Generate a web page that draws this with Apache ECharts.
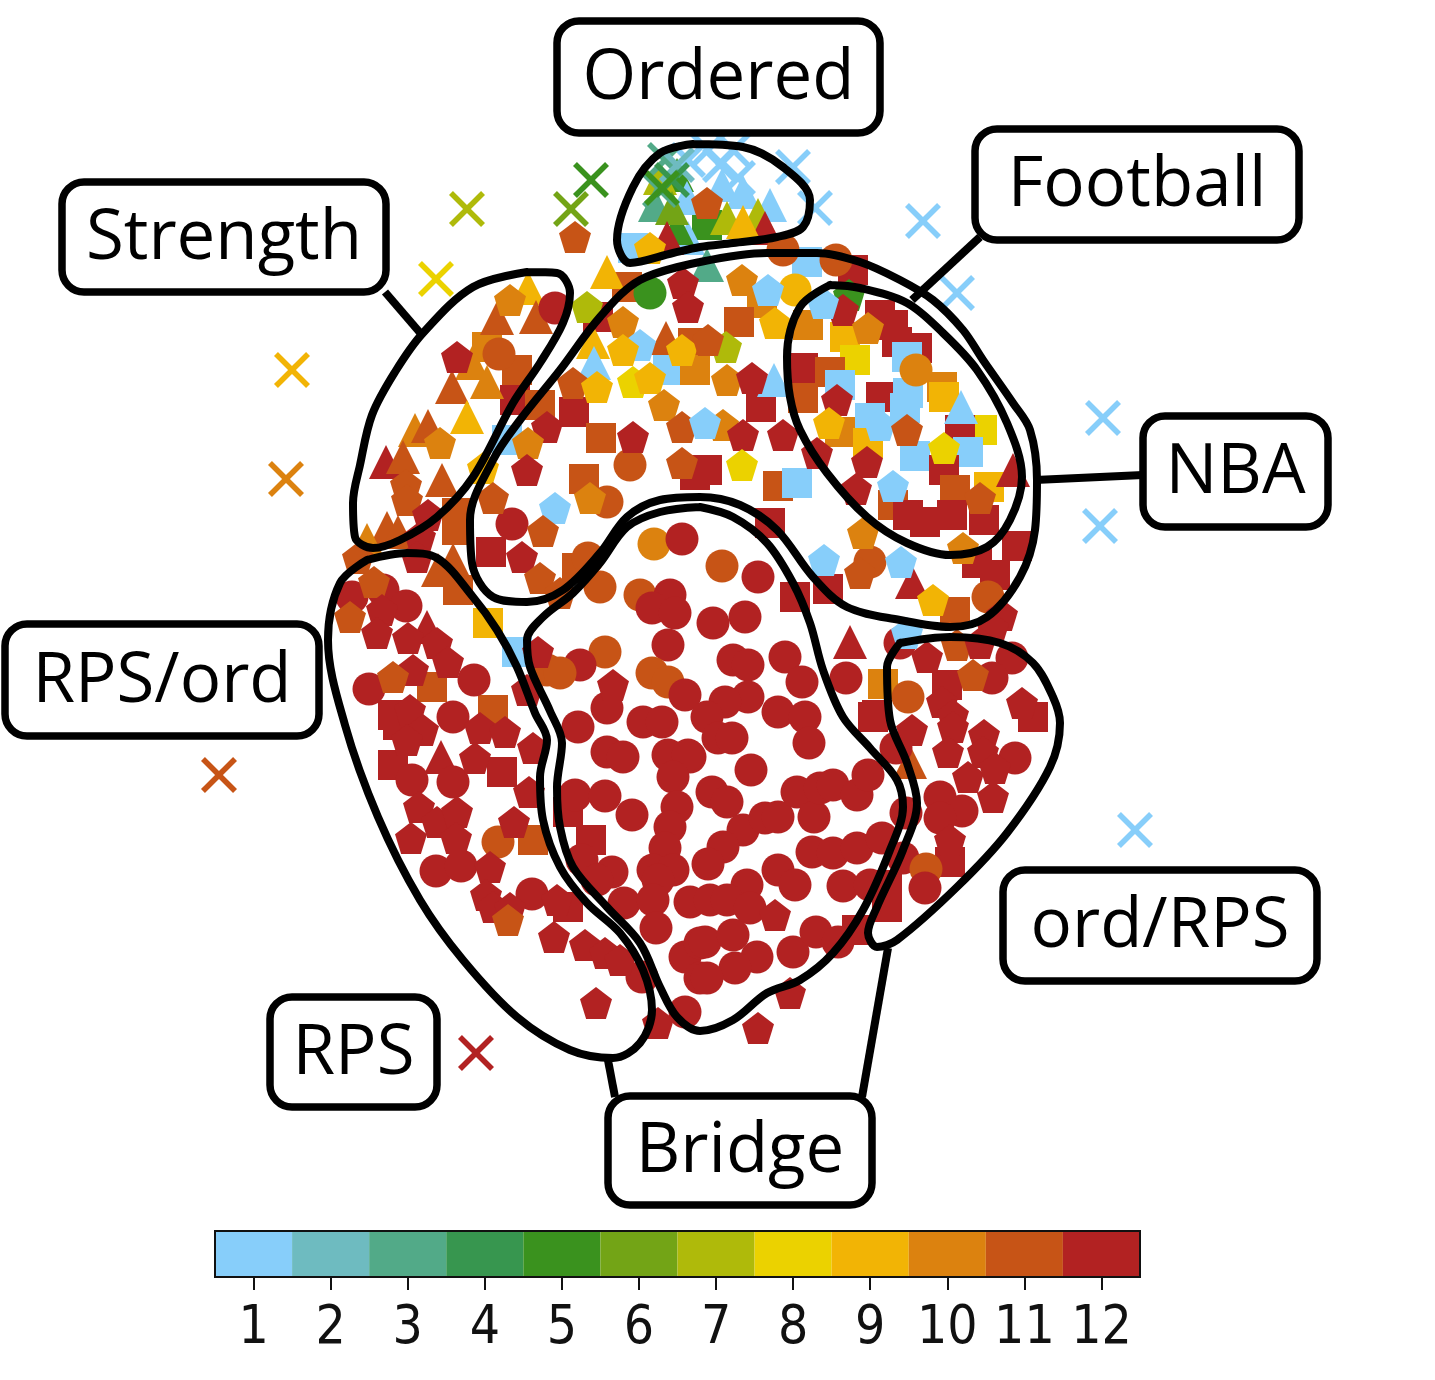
<!DOCTYPE html>
<html><head><meta charset="utf-8">
<style>html,body{margin:0;padding:0;background:#fff}#c{width:1435px;height:1380px}</style>
<script src="https://cdn.jsdelivr.net/npm/echarts@6/dist/echarts.min.js"></script>
</head><body><div id="c"></div>
<script>
const colors=['#87CEFA','#6EBBC0','#52AA88','#37964F','#3A921E','#73A416','#AFBA0A','#EBD200','#F2B405','#DC820F','#C75416','#B22222'];
const tickLabels=['1','2','3','4','5','6','7','8','9','10','11','12'];

const crosses=[[591,180,5],[571,209,6],[467,209,7],[436,279,8],[292,370,9],[286,479,10],[219,775,11],[476,1053,12],[1135,830,1],[1100,526,1],[1103,418,1],[957,293,1],[923,221,1],[815,208,1],[793,167,1],[720,165,1],[708,150,1],[733,150,1],[738,178,1],[688,160,1],[665,160,3],[677,165,2],[660,190,3],[672,180,4],[662,188,5]];

const squares=[[853,270,12],[807,262,1],[762,303,10],[739,322,11],[808,325,10],[845,337,9],[855,360,8],[880,315,12],[893,325,12],[897,342,12],[917,348,12],[907,357,1],[803,368,12],[830,372,11],[840,385,1],[881,397,12],[908,393,1],[942,387,10],[944,397,9],[803,398,11],[761,407,12],[870,418,1],[905,408,1],[982,430,8],[960,430,12],[840,432,10],[868,443,9],[915,456,1],[968,452,1],[944,470,12],[707,470,12],[778,486,11],[797,483,1],[955,490,11],[989,487,9],[893,505,11],[908,515,12],[925,522,12],[952,515,12],[984,520,12],[770,523,12],[1017,546,12],[977,563,12],[995,575,12],[955,612,11],[795,597,12],[828,589,12],
[627,287,11],[598,317,12],[693,343,11],[668,370,1],[695,370,10],[574,412,12],[515,400,12],[540,405,11],[601,438,11],[507,440,1],[584,479,11],[695,475,12],[457,513,11],[457,530,11],[491,552,12],[577,568,11],[458,590,11],[488,623,9],[517,652,1],[432,687,11],[493,710,11],[393,715,12],[398,725,12],[393,765,12],[502,772,12],[533,840,11],[568,812,12],[591,840,12],[568,907,12],[883,684,10],[877,715,12],[947,685,12],[1033,717,12],[873,717,12],[950,862,12],[887,885,12],[887,907,12],[857,930,12],[707,225,5],[633,248,1],[487,347,10],[517,370,11]];

const triangles=[[528,288,9],[497,318,11],[536,317,11],[607,272,9],[593,342,9],[594,363,1],[666,338,11],[472,363,10],[452,387,11],[487,382,10],[467,417,9],[415,430,10],[428,426,11],[386,462,12],[403,457,11],[442,480,11],[387,528,11],[398,532,11],[367,540,10],[453,560,11],[438,570,11],[427,627,12],[441,757,12],[774,380,1],[961,407,1],[1013,470,12],[912,582,12],[850,642,12],[910,762,11],
[677,175,5],[660,178,7],[722,185,1],[743,192,1],[770,205,1],[687,198,1],[688,238,1],[677,228,5],[655,205,3],[672,208,6],[667,238,12],[727,218,7],[758,215,7],[765,228,12],[743,222,9],[707,265,3]];

const circles=[[650,293,5],[555,308,12],[795,290,9],[783,250,11],[836,260,11],[916,370,10],[499,354,11],[630,465,11],[607,502,11],[512,524,12],[588,558,11],[600,587,11],[654,544,10],[682,539,12],[722,566,11],[758,577,12],[870,562,11],[988,597,11],[640,595,11],[670,595,12],[652,608,12],[675,613,12],[713,623,12],[745,617,12],[668,645,12],[605,652,11],[580,665,12],[547,670,11],[560,673,11],[652,673,11],[668,682,11],[685,695,12],[733,660,12],[748,665,12],[785,657,12],[802,682,12],[846,678,12],[748,697,12],[725,702,12],[707,717,12],[778,712,12],[805,717,12],[607,708,12],[578,727,12],[643,722,12],[662,722,12],[718,738,12],[732,738,12],[809,743,12],[690,757,12],[751,770,12],[607,752,12],[623,757,12],[668,755,12],[688,755,12],[673,777,12],[575,795,12],[605,796,12],[632,815,12],[677,807,12],[670,827,12],[665,848,12],[582,860,12],[612,872,12],[597,880,12],[653,870,12],[673,870,12],[658,880,12],[624,903,12],[653,900,12],[690,902,12],[656,928,12],[685,957,12],[700,943,12],[700,978,12],[685,1012,12],
[712,792,12],[727,802,12],[743,830,12],[765,818,12],[778,817,12],[797,792,12],[814,817,12],[820,788,12],[833,785,12],[857,795,12],[868,775,12],[723,847,12],[708,864,12],[812,852,12],[833,853,12],[857,848,12],[882,838,12],[778,870,12],[795,885,12],[843,886,12],[870,885,12],[747,885,12],[710,900,12],[727,900,12],[750,908,12],[705,942,12],[733,935,12],[757,957,12],[735,968,12],[707,978,12],[793,952,12],[816,932,12],[838,942,12],
[352,597,12],[383,590,12],[406,606,12],[369,689,12],[474,680,12],[453,717,12],[412,780,12],[453,782,12],[498,842,11],[436,871,12],[461,866,12],[532,894,12],[642,977,12],
[900,643,12],[908,697,11],[1012,658,12],[992,678,12],[896,748,12],[1015,758,12],[940,797,12],[962,811,12],[940,818,12],[906,813,12],[903,858,12],[926,869,11],[925,888,12]];

const pentagons=[[575,237,11],[707,203,11],[650,248,9],[683,283,12],[688,307,12],[510,300,10],[587,307,7],[623,322,10],[640,345,1],[623,350,9],[682,350,9],[457,357,12],[573,383,11],[597,387,9],[633,382,8],[650,378,9],[664,405,10],[547,427,12],[633,437,12],[682,427,11],[440,443,10],[528,443,10],[483,468,9],[527,470,12],[682,463,11],[406,485,11],[407,500,11],[493,498,11],[555,508,1],[590,498,10],[428,515,12],[543,531,11],[420,537,12],[417,557,12],[522,557,12],[358,558,11],[540,578,11],[560,593,11],[374,582,11],[350,617,11],[382,610,12],[377,633,12],[408,638,12],[437,643,12],[448,662,12],[538,652,12],[613,685,12],[527,690,12],[413,670,12],[393,677,11],[410,710,12],[423,730,12],[407,740,12],[480,728,12],[505,732,12],[533,748,12],[475,758,12],[529,792,12],[419,807,12],[437,822,12],[457,812,12],[456,838,12],[411,838,12],[514,822,12],[490,867,12],[486,895,12],[493,907,12],[510,908,12],[508,920,11],[557,900,12],[554,937,12],[585,945,12],[605,953,12],[620,960,12],[596,1003,12],[658,1023,12],[775,915,12],[790,993,12],[758,1028,12],
[742,280,10],[768,290,1],[775,323,9],[726,347,7],[708,340,11],[849,295,5],[843,310,12],[823,303,1],[868,328,10],[837,400,12],[727,380,10],[752,378,12],[829,423,9],[880,425,1],[907,430,11],[723,425,10],[705,423,1],[743,435,12],[783,435,12],[742,465,8],[817,453,12],[867,462,12],[856,489,12],[893,486,1],[980,498,11],[944,448,8],[963,548,10],[863,533,10],[824,560,1],[860,573,11],[901,562,1],[933,600,9],[1002,615,12],[993,628,12],[907,633,1],[927,657,12],[957,645,11],[980,643,12],[973,675,11],[942,702,12],[1022,703,12],[953,715,12],[912,730,12],[953,727,12],[984,735,12],[948,752,12],[983,752,12],[968,777,12],[993,797,12],[995,768,12],[950,840,12]];

const outlineOrdered=[[693,144],[743,147],[783,167],[810,200],[803,227],[777,237],[733,243],[700,247],[673,253],[630,263],[617,240],[633,187],[660,153],[693,144]];
const outlineStrength=[[527,272],[557,273],[570,293],[563,323],[540,363],[513,403],[473,477],[437,517],[400,540],[373,548],[355,537],[353,503],[360,465],[372,415],[395,372],[423,333],[473,287],[527,272]];
const outlineFootball=[[700,262],[767,253],[817,253],[860,262],[900,280],[933,300],[963,330],[983,360],[1013,403],[1030,430],[1037,480],[1035,530],[1020,577],[987,617],[950,627],[900,620],[847,607],[813,577],[777,530],[740,505],[700,497],[660,500],[627,517],[600,553],[563,590],[527,602],[493,597],[472,563],[470,520],[493,460],[520,420],[560,370],[600,317],[640,280],[700,262]];
const outlineNba=[[830,285],[860,288],[907,303],[943,333],[977,370],[1007,423],[1022,477],[1010,520],[987,547],[950,555],[907,543],[867,517],[827,473],[800,430],[790,397],[787,357],[800,307],[830,285]];
const outlineBridge=[[700,507],[733,517],[767,543],[793,583],[810,623],[823,670],[843,717],[870,748],[897,780],[903,807],[890,850],[863,910],[833,953],[800,980],[767,993],[733,1020],[700,1031],[677,1017],[660,987],[640,943],[607,907],[573,867],[560,827],[557,787],[562,743],[550,711],[530,667],[527,640],[543,617],[573,593],[600,563],[627,527],[660,512],[700,507]];
const outlineRpsOrd=[[367,560],[407,553],[437,558],[473,597],[497,630],[517,667],[535,713],[547,740],[540,777],[543,820],[560,867],[587,903],[620,933],[643,970],[652,1010],[640,1043],[613,1058],[570,1050],[517,1017],[463,960],[420,900],[378,817],[345,725],[328,640],[340,583],[367,560]];
const outlineOrdRps=[[900,643],[950,637],[1000,643],[1033,663],[1053,697],[1060,723],[1050,767],[1007,833],[957,887],[897,940],[877,947],[868,933],[877,907],[903,850],[917,803],[907,763],[890,720],[887,667],[900,643]];
const connectors=[[[385,292],[422,335]],[[980,237],[912,300]],[[1143,475],[1035,480]],[[607,1055],[615,1097]],[[888,948],[862,1097]]];

const labelNames=['Ordered','Football','Strength','NBA','RPS/ord','ord/RPS','RPS','Bridge'];
const labelBoxes=[[557,21,323,112],[975,129,324,111],[62,182,324,110],[1143,416,185,111],[5,624,314,112],[1003,870,314,111],[270,997,167,110],[608,1096,264,109]];

const pent='path://M0,-10 L9.51,-3.09 L5.88,8.09 L-5.88,8.09 L-9.51,-3.09 Z';
const xmark='path://M-10,-7.8 L-7.8,-10 L0,-2.2 L7.8,-10 L10,-7.8 L2.2,0 L10,7.8 L7.8,10 L0,2.2 L-7.8,10 L-10,7.8 L-2.2,0 Z';
const pts=(name,data,symbol,size,z)=>({type:'scatter',name,data,symbol,symbolSize:size,z,silent:true,animation:false,
  itemStyle:{opacity:1,color:p=>colors[p.data[2]-1]}});
const outline=(d)=>({type:'line',data:d,smooth:0.34,symbol:'none',z:10,silent:true,animation:false,lineStyle:{color:'#000',width:8,cap:'round',join:'round'}});
const conn=(d)=>({type:'line',data:d,symbol:'none',z:9,silent:true,animation:false,lineStyle:{color:'#000',width:8}});

const chart=echarts.init(document.getElementById('c'),null,{renderer:'canvas'});
chart.setOption({
  animation:false,backgroundColor:'#fff',
  grid:[{left:0,top:0,width:1435,height:1380},
        {left:215,top:1231,width:925,height:46,show:true,borderColor:'#111',borderWidth:2,z:3}],
  xAxis:[{gridIndex:0,type:'value',min:0,max:1435,show:false},
    {gridIndex:1,type:'category',data:tickLabels,boundaryGap:true,
     axisLine:{show:false},axisTick:{show:true,alignWithLabel:true,length:13,lineStyle:{color:'#111',width:2}},
     axisLabel:{margin:26,fontSize:53,color:'#111',fontFamily:'"DejaVu Sans Condensed","DejaVu Sans"',interval:0,hideOverlap:false}}],
  yAxis:[{gridIndex:0,type:'value',min:0,max:1380,inverse:true,show:false},
    {gridIndex:1,type:'value',min:0,max:1,show:false}],
  series:[
    pts('square',squares,'rect',30,3),
    pts('triangle',triangles,'triangle',[34,34],4),
    pts('cross',crosses,xmark,36,5),
    pts('circle',circles,'circle',33,6),
    pts('pentagon',pentagons,pent,32,7),
    ...connectors.map(conn),
    outline(outlineOrdered),outline(outlineStrength),outline(outlineFootball),outline(outlineNba),outline(outlineBridge),outline(outlineRpsOrd),outline(outlineOrdRps),
    {type:'bar',xAxisIndex:1,yAxisIndex:1,barWidth:'100%',silent:true,animation:false,
     data:colors.map(c=>({value:1,itemStyle:{color:c}}))}
  ],
  graphic:labelBoxes.flatMap((b,i)=>[
    {type:'rect',z:100,shape:{x:b[0],y:b[1],width:b[2],height:b[3],r:22},style:{fill:'#fff',stroke:'#000',lineWidth:7.5}},
    {type:'text',z:101,x:b[0]+b[2]/2,y:b[1]+b[3]/2+2,style:{text:labelNames[i],fill:'#000',font:'69px "Open Sans"',textAlign:'center',textVerticalAlign:'middle'}}
  ])
});
</script></body></html>
